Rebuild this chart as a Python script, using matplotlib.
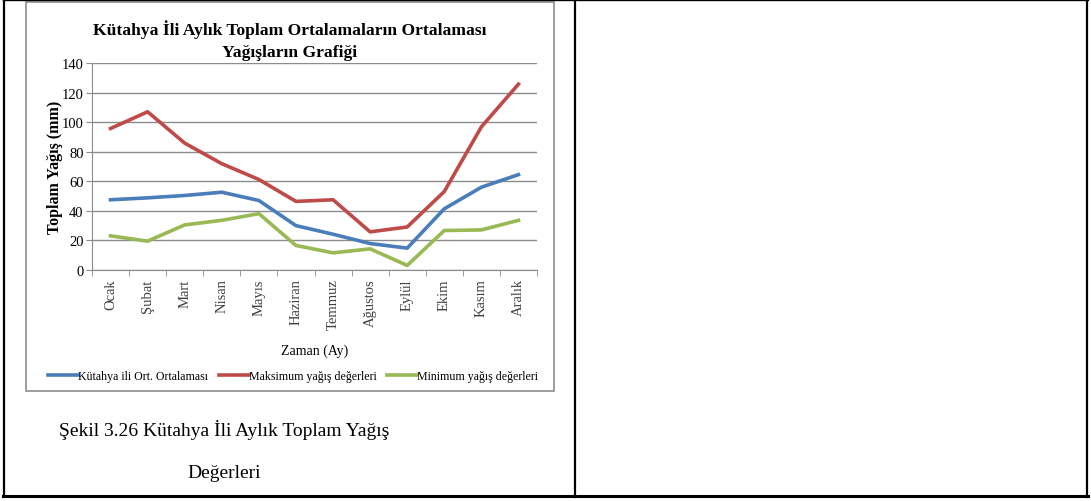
import matplotlib
matplotlib.use('Agg')
import matplotlib.pyplot as plt
from matplotlib.lines import Line2D
from matplotlib.patches import Rectangle

plt.rcParams['font.family'] = ['Liberation Serif', 'DejaVu Serif']

aylar = ['Ocak', 'Şubat', 'Mart', 'Nisan', 'Mayıs', 'Haziran', 'Temmuz',
         'Ağustos', 'Eylül', 'Ekim', 'Kasım', 'Aralık']
ortalama = [47.5, 48.8, 50.4, 52.6, 47.0, 30.0, 24.2, 17.9, 14.8, 41.4, 56.0, 64.5]
maksimum = [95.7, 107.0, 85.8, 71.9, 61.2, 46.4, 47.5, 25.8, 29.1, 53.1, 96.8, 125.7]
minimum = [23.1, 19.5, 30.5, 33.6, 38.1, 16.6, 11.6, 14.3, 3.1, 26.7, 27.1, 33.6]
seri_adlari = ['Kütahya ili Ort. Ortalaması', 'Maksimum yağış değerleri',
               'Minimum yağış değerleri']
renkler = ['#4A7EBB', '#BE4B48', '#98B954']

W, H = 1091, 502
fig = plt.figure(figsize=(W / 100, H / 100), dpi=100)

# table borders
def hline(y, x0, x1, lw):
    fig.add_artist(Line2D([x0 / W, x1 / W], [1 - y / H, 1 - y / H], color='black', lw=lw))

def vline(x, y0, y1, lw):
    fig.add_artist(Line2D([x / W, x / W], [1 - y0 / H, 1 - y1 / H], color='black', lw=lw))

hline(0.5, 3, 1088, 1.0)
hline(497, 3, 1088, 2.2)
vline(3.5, 0, 498, 1.6)
vline(574.5, 0, 498, 1.6)
vline(1087, 0, 498, 1.6)

# chart frame
fig.add_artist(Rectangle((25.5 / W, 1 - 392 / H), (554 - 25.5) / W, (392 - 3) / H,
                         transform=fig.transFigure, fill=False, edgecolor='#8C8C8C', lw=1.2))

ax = fig.add_axes([92 / W, 1 - 271 / H, (537 - 92) / W, (271 - 64) / H])
x = list(range(len(aylar)))
for vals, c, ad in zip([ortalama, maksimum, minimum], renkler, seri_adlari):
    ax.plot(x, vals, color=c, lw=2.6, label=ad, solid_joinstyle='round')

ax.set_xlim(-0.5, len(aylar) - 0.5)
ax.set_ylim(0, 140)
ax.set_yticks(range(0, 141, 20))
ax.yaxis.grid(True, color='#8C8C8C', lw=1)
ax.set_axisbelow(True)
for s in ['top', 'right']:
    ax.spines[s].set_visible(False)
for s in ['left', 'bottom']:
    ax.spines[s].set_color('#8C8C8C')
ax.set_xticks(x)
ax.set_xticklabels(aylar, rotation=90, fontsize=10.5, color='#404040')
ax.set_xticks([i - 0.5 for i in range(len(aylar) + 1)], minor=True)
ax.tick_params(axis='x', which='major', length=0, pad=6)
ax.tick_params(axis='x', which='minor', length=4, color='#8C8C8C', direction='out')
ax.tick_params(axis='y', length=4, color='#8C8C8C', labelsize=10.5, pad=2)
ax.set_ylabel('Toplam Yağış (mm)', fontsize=11.5, fontweight='bold')
ax.yaxis.set_label_coords(-29 / 445, 0.5)
ax.set_xlabel('Zaman (Ay)', fontsize=10, labelpad=10)

fig.text(290 / W, 1 - 30 / H, 'Kütahya İli Aylık Toplam Ortalamaların Ortalaması',
         ha='center', va='center', fontsize=12.6, fontweight='bold')
fig.text(290 / W, 1 - 53 / H, 'Yağışların Grafiği',
         ha='center', va='center', fontsize=12.6, fontweight='bold')

fig.legend(loc='center', bbox_to_anchor=(293 / W, 1 - 377 / H), ncol=3, frameon=False,
           fontsize=8.6, handlelength=2.5, handletextpad=0.0, columnspacing=0.9)

fig.text(224 / W, 1 - 430 / H, 'Şekil 3.26 Kütahya İli Aylık Toplam Yağış',
         ha='center', va='center', fontsize=14)
fig.text(224 / W, 1 - 474 / H, 'Değerleri', ha='center', va='center', fontsize=14)

fig.savefig('out.png', dpi=100)
